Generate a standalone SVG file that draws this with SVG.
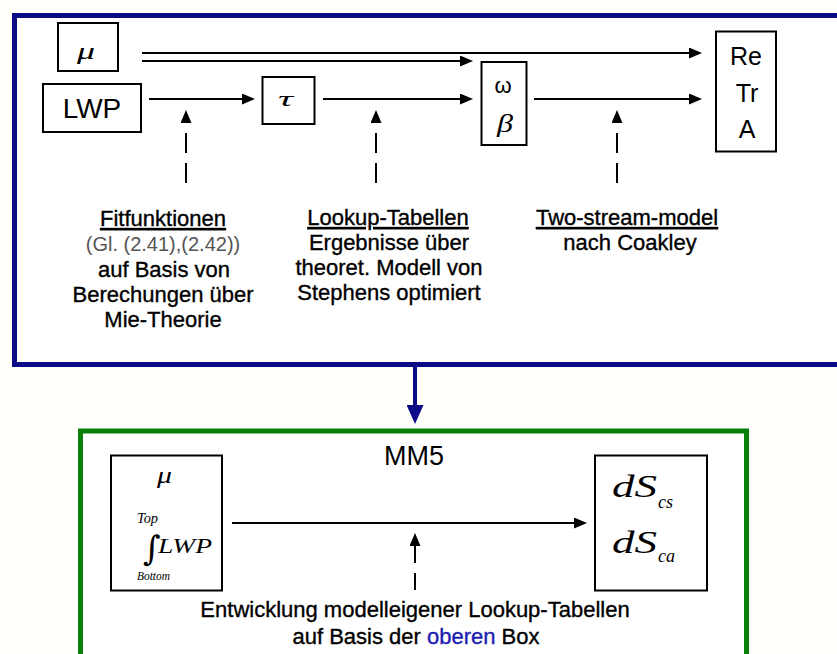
<svg xmlns="http://www.w3.org/2000/svg" width="837" height="654" viewBox="0 0 837 654">
<style>
.bx{fill:none;stroke:#000;stroke-width:2}
.ln{fill:none;stroke:#000;stroke-width:2}
.ds{fill:none;stroke:#000;stroke-width:2;stroke-dasharray:20 10}
.sans{font-family:"Liberation Sans",Arial,sans-serif;fill:#000}
.ser{font-family:"Liberation Serif","Times New Roman",serif;font-style:italic;fill:#000}
.lbl{font-family:"Liberation Sans",Arial,sans-serif;font-size:22px;fill:#000;text-anchor:middle;stroke:#000;stroke-width:0.35}
</style>
<defs>
<marker id="ah" markerUnits="userSpaceOnUse" viewBox="0 0 13 11" refX="3" refY="5.5" markerWidth="13" markerHeight="11" orient="auto">
<path d="M0,0 L13,5.5 L0,11 z" fill="#000"/>
</marker>
<marker id="bh" markerUnits="userSpaceOnUse" viewBox="0 0 19 17" refX="5" refY="8.5" markerWidth="19" markerHeight="17" orient="auto">
<path d="M0,0 L19,8.5 L0,17 z" fill="#0b0b88"/>
</marker>
</defs>
<rect x="0" y="0" width="837" height="654" fill="#fffffb"/>
<g id="upper-frame">
<rect x="14.5" y="15.5" width="835" height="349" fill="#fff" stroke="#0b0b88" stroke-width="5"/>
</g>
<g id="lower-frame">
<rect x="80.5" y="431" width="666" height="300" fill="#fff" stroke="#0a800a" stroke-width="5"/>
<text class="sans" x="414" y="465" font-size="27" text-anchor="middle">MM5</text>
</g>
<g id="connectors">
<line class="ln" x1="142" y1="53" x2="692" y2="53" marker-end="url(#ah)"/>
<line class="ln" x1="142" y1="61" x2="463" y2="61" marker-end="url(#ah)"/>
<line class="ln" x1="149" y1="99" x2="245" y2="99" marker-end="url(#ah)"/>
<line class="ln" x1="323" y1="99" x2="463" y2="99" marker-end="url(#ah)"/>
<line class="ln" x1="534" y1="99" x2="692" y2="99" marker-end="url(#ah)"/>
<line class="ds" x1="186" y1="183" x2="186" y2="120" marker-end="url(#ah)"/>
<line class="ds" x1="376" y1="183" x2="376" y2="120" marker-end="url(#ah)"/>
<line class="ds" x1="617" y1="183" x2="617" y2="120" marker-end="url(#ah)"/>
<line x1="415" y1="366" x2="415" y2="410" stroke="#0b0b88" stroke-width="4" marker-end="url(#bh)"/>
<line class="ln" x1="232" y1="523" x2="577" y2="523" marker-end="url(#ah)"/>
<line class="ln" x1="415" y1="590" x2="415" y2="543" stroke-dasharray="17 10" marker-end="url(#ah)"/>
</g>
<g id="mu">
<rect class="bx" x="58" y="23" width="60" height="48"/>
<text class="ser" x="77" y="59" font-size="23" textLength="18" lengthAdjust="spacingAndGlyphs">μ</text>
</g>
<g id="lwp">
<rect class="bx" x="43" y="84" width="98" height="48"/>
<text class="sans" x="92" y="118" font-size="28" text-anchor="middle">LWP</text>
</g>
<g id="tau">
<rect class="bx" x="262.5" y="77" width="52" height="47"/>
<text class="ser" x="278" y="106" font-size="22" textLength="15" lengthAdjust="spacingAndGlyphs">τ</text>
</g>
<g id="omega-beta">
<rect class="bx" x="481.5" y="62" width="45" height="83"/>
<text class="sans" x="503" y="93" font-size="22" text-anchor="middle">ω</text>
<text class="ser" x="497" y="132" font-size="25" textLength="16" lengthAdjust="spacingAndGlyphs">β</text>
</g>
<g id="retra">
<rect class="bx" x="716" y="31.5" width="60" height="120"/>
<text class="sans" x="746" y="65" font-size="25" text-anchor="middle">Re</text>
<text class="sans" x="747" y="102" font-size="25" text-anchor="middle">Tr</text>
<text class="sans" x="747" y="138" font-size="25" text-anchor="middle">A</text>
</g>
<g id="note-fit">
<text class="lbl" x="163" y="226" text-decoration="underline">Fitfunktionen</text>
<text x="163" y="251" font-family="'Liberation Sans',Arial,sans-serif" font-size="20" fill="#555" text-anchor="middle">(Gl. (2.41),(2.42))</text>
<text class="lbl" x="164" y="277">auf Basis von</text>
<text class="lbl" x="163" y="302">Berechungen über</text>
<text class="lbl" x="163" y="327">Mie-Theorie</text>
</g>
<g id="note-lookup">
<text class="lbl" x="388" y="225" text-decoration="underline">Lookup-Tabellen</text>
<text class="lbl" x="389" y="250">Ergebnisse über</text>
<text class="lbl" x="389" y="275">theoret. Modell von</text>
<text class="lbl" x="389" y="300">Stephens optimiert</text>
</g>
<g id="note-twostream">
<text class="lbl" x="627" y="225" text-decoration="underline">Two-stream-model</text>
<text class="lbl" x="630" y="250">nach Coakley</text>
</g>
<g id="mm5-input">
<rect class="bx" x="111" y="455.5" width="111" height="135"/>
<text class="ser" x="157" y="483" font-size="23" textLength="15" lengthAdjust="spacingAndGlyphs">μ</text>
<text class="ser" x="137" y="523" font-size="14" textLength="21" lengthAdjust="spacingAndGlyphs">Top</text>
<text x="143" y="560" font-family="'DejaVu Serif',serif" font-size="34" fill="#000">∫</text>
<text class="ser" x="158" y="553" font-size="22" textLength="54" lengthAdjust="spacingAndGlyphs">LWP</text>
<text class="ser" x="137" y="580" font-size="13" textLength="33" lengthAdjust="spacingAndGlyphs">Bottom</text>
</g>
<g id="mm5-output">
<rect class="bx" x="595" y="455.5" width="112" height="135"/>
<text class="ser" x="612" y="497" font-size="32" textLength="45" lengthAdjust="spacingAndGlyphs">dS</text>
<text class="ser" x="658" y="508" font-size="18">cs</text>
<text class="ser" x="612" y="553" font-size="32" textLength="45" lengthAdjust="spacingAndGlyphs">dS</text>
<text class="ser" x="658" y="562" font-size="18">ca</text>
</g>
<g id="note-mm5">
<text class="lbl" x="415" y="617">Entwicklung modelleigener Lookup-Tabellen</text>
<text class="lbl" x="416" y="644">auf Basis der <tspan fill="#1c1cb0" stroke="#1c1cb0">oberen</tspan> Box</text>
</g>
</svg>
